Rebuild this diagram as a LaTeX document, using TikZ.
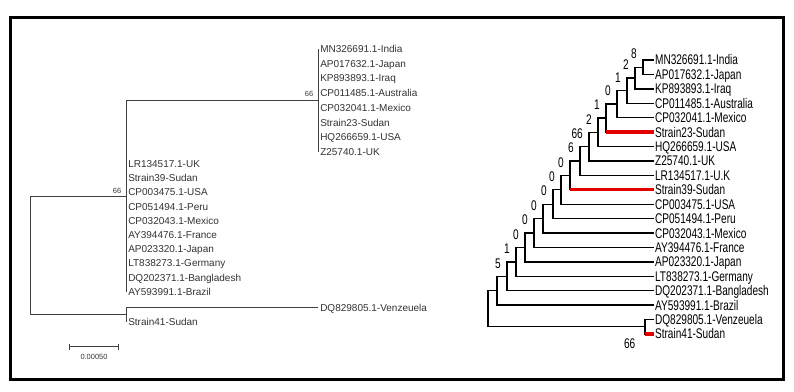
\documentclass[tikz,border=0pt]{standalone}
\usepackage{fontspec}
\setmainfont{Liberation Sans}
\newfontfamily\narrowfont[FakeStretch=0.72]{Liberation Sans}
\usetikzlibrary{positioning, calc, arrows.meta}

\begin{document}
\begin{tikzpicture}[
  x=0.75pt, y=-0.75pt,
  lefttip/.style={anchor=west, inner xsep=1.5pt, inner ysep=0pt, text height=5.4pt, text depth=0pt, text=black!80, font=\fontsize{7.5}{8}\selectfont},
  righttip/.style={anchor=west, inner xsep=1pt, inner ysep=0pt, text height=7.5pt, text depth=0pt, font=\narrowfont\fontsize{10.5}{11}\selectfont},
  lbranch/.style={draw=black!75, line width=0.75pt},
  rbranch/.style={draw=black, line width=1pt},
  redbranch/.style={draw=red!90!black, line width=2.4pt},
  lboot/.style={anchor=south east, xshift=-3.4pt, yshift=2.5pt, inner sep=0pt, text height=4pt, text depth=0pt, text=black!80, font=\fontsize{5.6}{6}\selectfont},
  bootnum/.style={inner sep=0pt, text height=7.5pt, text depth=0pt, font=\narrowfont\fontsize{10.5}{11}\selectfont},
  rboot/.style={bootnum, anchor=south east, xshift=-4.5pt, yshift=6pt}
  ]

  \useasboundingbox (0,0) rectangle (794,392);
  \fill[white] (0,0) rectangle (794,392);
  \draw[line width=2.25pt] (10.5,17.5) rectangle (783,380);

  % left tree
  \coordinate (L0) at (30,256);
  \coordinate (La) at (126,197);
  \coordinate (Lb) at (318,100.5);
  \coordinate (Lc) at (126,315);

  \node[lefttip] (l1) at (318,49) {MN326691.1-India};
  \node[lefttip] (l2) at (318,63.7) {AP017632.1-Japan};
  \node[lefttip] (l3) at (318,78.4) {KP893893.1-Iraq};
  \node[lefttip] (l4) at (318,93.1) {CP011485.1-Australia};
  \node[lefttip] (l5) at (318,107.8) {CP032041.1-Mexico};
  \node[lefttip] (l6) at (318,122.5) {Strain23-Sudan};
  \node[lefttip] (l7) at (318,137.2) {HQ266659.1-USA};
  \node[lefttip] (l8) at (318,151.9) {Z25740.1-UK};
  \node[lefttip] (l9) at (126,164) {LR134517.1-UK};
  \node[lefttip] (l10) at (126,178.2) {Strain39-Sudan};
  \node[lefttip] (l11) at (126,192.4) {CP003475.1-USA};
  \node[lefttip] (l12) at (126,206.6) {CP051494.1-Peru};
  \node[lefttip] (l13) at (126,220.8) {CP032043.1-Mexico};
  \node[lefttip] (l14) at (126,235) {AY394476.1-France};
  \node[lefttip] (l15) at (126,249.2) {AP023320.1-Japan};
  \node[lefttip] (l16) at (126,263.4) {LT838273.1-Germany};
  \node[lefttip] (l17) at (126,277.6) {DQ202371.1-Bangladesh};
  \node[lefttip] (l18) at (126,291.8) {AY593991.1-Brazil};
  \node[lefttip] (l19) at (318,308) {DQ829805.1-Venzeuela};
  \node[lefttip] (l20) at (126,322) {Strain41-Sudan};

  \draw[lbranch] (L0) |- (La);
  \draw[lbranch] (L0) |- (Lc);
  \draw[lbranch] (La) |- (Lb);
  \foreach \t in {1,...,8}
	\draw[lbranch] (Lb) |- (l\t.west);
  \foreach \t in {9,...,18}
	\draw[lbranch] (La) |- (l\t.west);
  \draw[lbranch] (Lc) |- (l19.west);
  \draw[lbranch] (Lc) |- (l20.west);

  \node[lboot] (lb1) at (Lb) {66};
  \node[lboot] (lb2) at (La) {66};

  \coordinate (sb1) at (69,347);
  \coordinate (sb2) at (119,347);
  \draw[lbranch, {Bar[width=4.5pt]}-{Bar[width=4.5pt]}] (sb1) -- (sb2);
  \node[inner sep=0pt, text=black!80, font=\fontsize{5.6}{6}\selectfont] (sblab) at (94,356.5) {0.00050};

  % right tree
  \node[righttip] (r1) at (653.5,60) {MN326691.1-India};
  \node[righttip] (r2) at (653.5,74.42) {AP017632.1-Japan};
  \node[righttip] (r3) at (653.5,88.84) {KP893893.1-Iraq};
  \node[righttip] (r4) at (653.5,103.26) {CP011485.1-Australia};
  \node[righttip] (r5) at (653.5,117.68) {CP032041.1-Mexico};
  \node[righttip] (r6) at (653.5,132.1) {Strain23-Sudan};
  \node[righttip] (r7) at (653.5,146.52) {HQ266659.1-USA};
  \node[righttip] (r8) at (653.5,160.94) {Z25740.1-UK};
  \node[righttip] (r9) at (653.5,175.36) {LR134517.1-U.K};
  \node[righttip] (r10) at (653.5,189.78) {Strain39-Sudan};
  \node[righttip] (r11) at (653.5,204.2) {CP003475.1-USA};
  \node[righttip] (r12) at (653.5,218.62) {CP051494.1-Peru};
  \node[righttip] (r13) at (653.5,233.04) {CP032043.1-Mexico};
  \node[righttip] (r14) at (653.5,247.46) {AY394476.1-France};
  \node[righttip] (r15) at (653.5,261.88) {AP023320.1-Japan};
  \node[righttip] (r16) at (653.5,276.3) {LT838273.1-Germany};
  \node[righttip] (r17) at (653.5,290.72) {DQ202371.1-Bangladesh};
  \node[righttip] (r18) at (653.5,305.14) {AY593991.1-Brazil};
  \node[righttip] (r19) at (653.5,319.56) {DQ829805.1-Venzeuela};
  \node[righttip] (r20) at (653.5,333.98) {Strain41-Sudan};

  \coordinate (n1) at (643,67.21);
  \coordinate (n2) at (635,78.03);
  \coordinate (n3) at (627,90.64);
  \coordinate (n4) at (617,104.16);
  \coordinate (n5) at (606,118.13);
  \coordinate (n6) at (598,132.33);
  \coordinate (n7) at (589,146.63);
  \coordinate (n8) at (580,161);
  \coordinate (n9) at (570,175.39);
  \coordinate (n10) at (561,189.8);
  \coordinate (n11) at (553,204.21);
  \coordinate (n12) at (543,218.62);
  \coordinate (n13) at (534,233.04);
  \coordinate (n14) at (525,247.46);
  \coordinate (n15) at (516,261.88);
  \coordinate (n16) at (507,276.3);
  \coordinate (n17) at (497,290.72);
  \coordinate (n18) at (645,326.77);
  \coordinate (nr) at (488,308.75);

  \draw[rbranch] (n1) |- (r1.west);
  \draw[rbranch] (n1) |- (r2.west);
  \foreach \k [count=\j from 1] in {2,...,17}{
	\pgfmathtruncatemacro{\tip}{\k+1}
	\draw[rbranch] (n\k) |- (n\j);
	\draw[rbranch] (n\k) |- (r\tip.west);
  }
  \draw[rbranch] (n18) |- (r19.west);
  \draw[rbranch] (n18) |- (r20.west);
  \draw[rbranch] (nr) |- (n17);
  \draw[rbranch] (nr) |- (n18);

  % Sudan strains
  \draw[redbranch] (n5 |- r6.west) -- (r6.west);
  \draw[redbranch] (n9 |- r10.west) -- (r10.west);
  \draw[redbranch] (n18 |- r20.west) -- (r20.west);

  \node[rboot] (b1) at (n1) {8};
  \node[rboot] (b2) at (n2) {2};
  \node[rboot] (b3) at (n3) {1};
  \node[rboot] (b4) at (n4) {0};
  \node[rboot] (b5) at (n5) {1};
  \node[rboot] (b6) at (n6) {2};
  \node[rboot] (b7) at (n7) {66};
  \node[rboot] (b8) at (n8) {6};
  \node[rboot] (b9) at (n9) {0};
  \node[rboot] (b10) at (n10) {0};
  \node[rboot] (b11) at (n11) {0};
  \node[rboot] (b12) at (n12) {0};
  \node[rboot] (b13) at (n13) {0};
  \node[rboot] (b14) at (n14) {0};
  \node[rboot] (b15) at (n15) {1};
  \node[rboot] (b16) at (n16) {5};
  \node[bootnum, anchor=north east] (b18) at ([shift={(-9.4,11.5)}]n18) {66};
\end{tikzpicture}
\end{document}
